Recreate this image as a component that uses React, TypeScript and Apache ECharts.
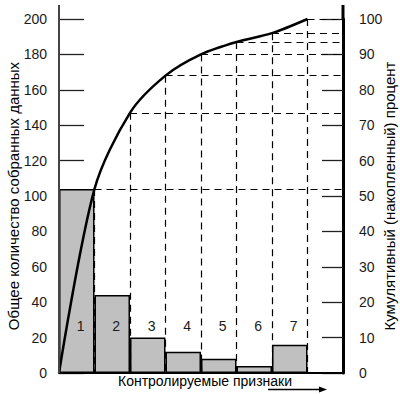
import React, { useEffect, useRef } from "react";
import * as echarts from "echarts";

const categories = ["1", "2", "3", "4", "5", "6", "7", ""];
const counts = [104, 44, 20, 12, 8, 4, 16, "-"];
const cumulativePercent = [0, 52, 73.5, 84, 90, 93.5, 96, 100];
const leftTicks = { min: 0, max: 200, interval: 20 };
const rightTicks = { min: 0, max: 100, interval: 10 };

const FONT = "'Liberation Sans', Arial, sans-serif";

export default function App() {
  const ref = useRef<HTMLDivElement>(null);
  useEffect(() => {
    if (!ref.current) return;
    const chart = echarts.init(ref.current, undefined, { renderer: "svg" });
    const last = categories.length;
    const guides: any[] = [];
    for (let i = 1; i < cumulativePercent.length; i++) {
      const v = cumulativePercent[i];
      guides.push([{ coord: [i, v] }, { coord: [last, v] }]);
      guides.push([{ coord: [i, v] }, { coord: [i, 0] }]);
    }
    chart.setOption({
      animation: false,
      textStyle: { fontFamily: FONT },
      grid: {
        left: 59,
        right: 57,
        top: 19,
        bottom: 21,
        containLabel: false,
        outerBoundsMode: "none",
      },
      xAxis: [
        {
          type: "category",
          data: categories,
          boundaryGap: true,
          axisLine: { show: true, lineStyle: { color: "#000", width: 2 } },
          axisTick: { show: false },
          axisLabel: {
            inside: true,
            margin: 40,
            fontSize: 14,
            color: "#1a1a1a",
            fontFamily: FONT,
            padding: [0, 0, 0, 8],
          },
          z: 5,
          name: "Контролируемые признаки",
          nameLocation: "middle",
          nameGap: 1,
          nameMoveOverlap: false,
          nameTextStyle: {
            fontSize: 14,
            color: "#000",
            fontFamily: FONT,
            padding: [0, 0, 0, 8],
          },
        },
        { type: "value", min: 0, max: last, show: false },
      ],
      yAxis: [
        {
          type: "value",
          ...leftTicks,
          axisLine: { show: false },
          axisTick: {
            show: true,
            inside: true,
            length: 25,
            lineStyle: { color: "#222", width: 1.3 },
          },
          axisLabel: { margin: 12, fontSize: 14, color: "#1a1a1a", fontFamily: FONT },
          splitLine: { show: false },
          name: "Общее количество собранных данных",
          nameLocation: "middle",
          nameRotate: 90,
          nameGap: 38,
          nameMoveOverlap: false,
          nameTextStyle: { fontSize: 15, color: "#000", fontFamily: FONT },
        },
        {
          type: "value",
          position: "right",
          ...rightTicks,
          axisLine: { show: true, lineStyle: { color: "#000", width: 3 } },
          axisTick: {
            show: true,
            inside: true,
            length: 21,
            lineStyle: { color: "#222", width: 1.3 },
          },
          axisLabel: { margin: 16, fontSize: 14, color: "#1a1a1a", fontFamily: FONT },
          splitLine: { show: false },
          name: "Кумулятивный (накопленный) процент",
          nameLocation: "middle",
          nameRotate: 90,
          nameGap: 39,
          nameMoveOverlap: false,
          nameTextStyle: { fontSize: 15, color: "#000", fontFamily: FONT },
        },
      ],
      graphic: [
        {
          type: "line",
          shape: { x1: 59, y1: 5, x2: 59, y2: 373 },
          style: { stroke: "#444", lineWidth: 2 },
          z: 10,
        },
        {
          type: "line",
          shape: { x1: 343, y1: 5, x2: 343, y2: 20 },
          style: { stroke: "#000", lineWidth: 3 },
          z: 10,
        },
        {
          type: "line",
          shape: { x1: 268, y1: 389.5, x2: 321, y2: 389.5 },
          style: { stroke: "#000", lineWidth: 1.3 },
        },
        {
          type: "polygon",
          shape: { points: [[319, 386.5], [327, 389.5], [319, 392.5]] },
          style: { fill: "#000" },
        },
      ],
      series: [
        {
          type: "line",
          xAxisIndex: 1,
          yAxisIndex: 1,
          data: [],
          z: 1,
          markLine: {
            silent: true,
            symbol: "none",
            label: { show: false },
            lineStyle: { type: [7, 5], color: "#000", width: 1.2 },
            data: guides,
          },
        },
        {
          type: "bar",
          xAxisIndex: 0,
          yAxisIndex: 0,
          data: counts,
          barCategoryGap: "0%",
          itemStyle: { color: "#c0c0c0", borderColor: "#000", borderWidth: 1.5 },
          z: 3,
        },
        {
          type: "line",
          xAxisIndex: 1,
          yAxisIndex: 1,
          data: cumulativePercent.map((v, i) => [i, v]),
          smooth: 0.3,
          symbol: "none",
          lineStyle: { color: "#000", width: 2.5 },
          z: 4,
        },
      ],
    });
    return () => chart.dispose();
  }, []);
  return (
    <div
      ref={ref}
      style={{ position: "absolute", left: 0, top: 0, width: 400, height: 394 }}
    />
  );
}
